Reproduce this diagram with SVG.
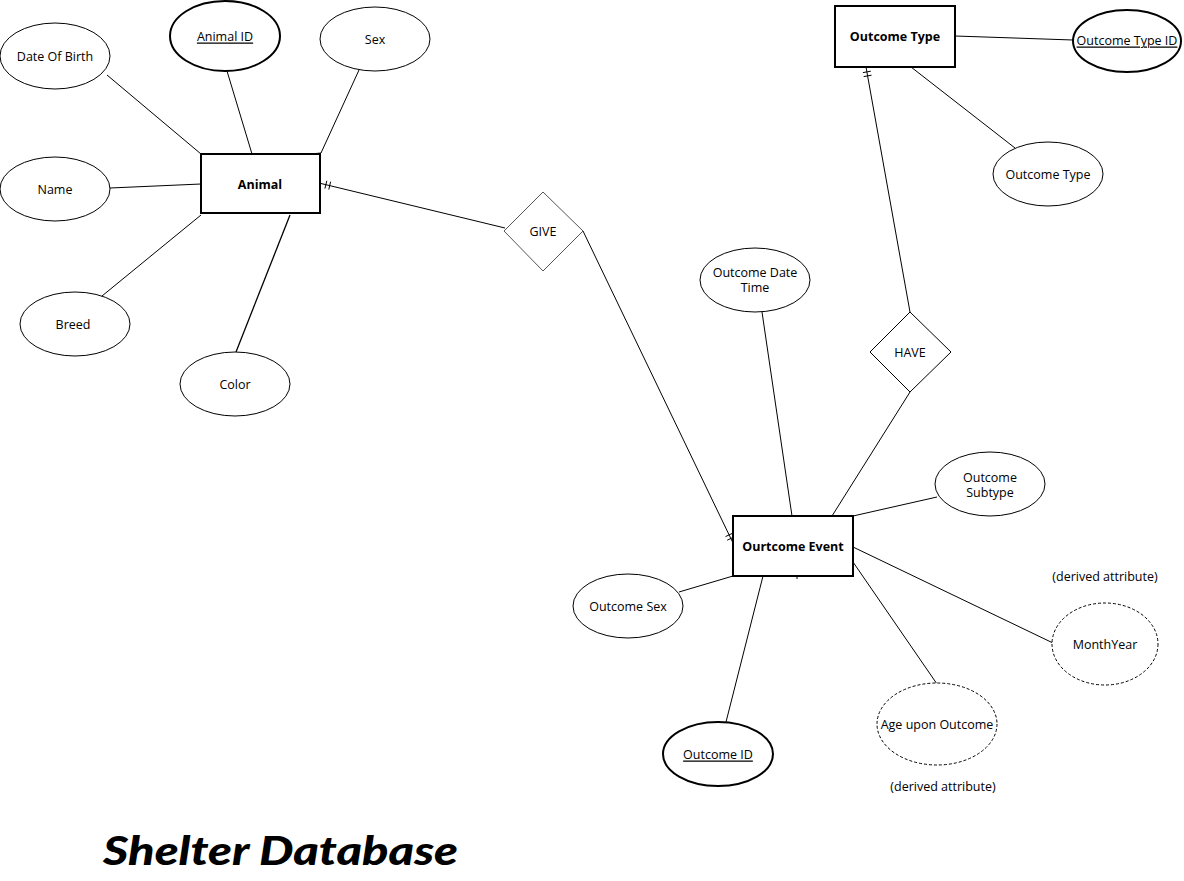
<svg xmlns="http://www.w3.org/2000/svg" width="1184" height="881" viewBox="0 0 1184 881">
<style>
text{font-family:"Open Sans","DejaVu Sans",sans-serif;font-size:12.5px;fill:#000;text-anchor:middle;dominant-baseline:central}
.ent rect{fill:#fff;stroke:#000;stroke-width:2}
.ent text{font-weight:700}
.attr ellipse{fill:#fff;stroke:#000;stroke-width:1}
.key ellipse{fill:#fff;stroke:#000;stroke-width:2}
.key text{text-decoration:underline}
.der ellipse{fill:#fff;stroke:#000;stroke-width:1;stroke-dasharray:3 2}
.rel polygon{fill:#fff;stroke:#000;stroke-width:1}
#connectors line,#connectors polyline{stroke:#000;stroke-width:1;fill:none}
.note{font-size:12.5px}
.title{font-family:"Lato","Open Sans",sans-serif;font-weight:900;font-style:italic;font-size:40px;text-anchor:start;dominant-baseline:alphabetic}
</style>
<rect width="1184" height="881" fill="#fff"/>
<g id="connectors">
<line x1="107" y1="75" x2="201" y2="154"/>
<line x1="227" y1="71" x2="252" y2="154"/>
<polyline points="359,70 321,153 300,155"/>
<line x1="110" y1="188" x2="201" y2="184"/>
<line x1="102" y1="296" x2="201" y2="215"/>
<line x1="236" y1="352" x2="290" y2="215" style="stroke-width:1.3"/>
<line x1="321" y1="183.5" x2="505" y2="228"/>
<line x1="326.8" y1="180.8" x2="324.9" y2="188.6"/>
<line x1="330.6" y1="181.7" x2="328.8" y2="189.5"/>
<line x1="583" y1="231" x2="733" y2="543"/>
<line x1="734.4" y1="536.8" x2="727.2" y2="540.2"/>
<line x1="732.7" y1="533.2" x2="725.5" y2="536.6"/>
<line x1="955" y1="36" x2="1073" y2="40"/>
<line x1="911" y1="67" x2="1015" y2="148"/>
<line x1="866" y1="67" x2="910" y2="312"/>
<line x1="862.9" y1="72.6" x2="870.8" y2="71.2"/>
<line x1="863.7" y1="76.6" x2="871.5" y2="75.2"/>
<line x1="910" y1="392" x2="832" y2="516"/>
<line x1="762" y1="312" x2="792" y2="516"/>
<line x1="937" y1="497" x2="853" y2="516"/>
<line x1="679" y1="592" x2="733" y2="576"/>
<line x1="726" y1="722" x2="763" y2="576"/>
<line x1="797" y1="576" x2="797" y2="579"/>
<line x1="853" y1="547" x2="1053" y2="643"/>
<line x1="853" y1="562" x2="937" y2="684"/>
</g>
<g id="animal" class="ent"><rect x="201" y="154" width="119" height="59"/><text x="260" y="184">Animal</text></g>
<g id="outcome-event" class="ent"><rect x="733" y="516" width="120" height="60"/><text x="793" y="546">Ourtcome Event</text></g>
<g id="outcome-type" class="ent"><rect x="835" y="6" width="120" height="61"/><text x="895" y="36">Outcome Type</text></g>
<g id="give" class="rel"><polygon points="543,192 583,231 543,271 504,231" style="stroke:#555"/><text x="543" y="231">GIVE</text></g>
<g id="have" class="rel"><polygon points="910,312 951,352 910,392 870,352"/><text x="910" y="352">HAVE</text></g>
<g id="date-of-birth" class="attr"><ellipse cx="55" cy="56" rx="55" ry="33"/><text x="55" y="56">Date Of Birth</text></g>
<g id="animal-id" class="key"><ellipse cx="225" cy="36" rx="55" ry="35"/><text x="225" y="36">Animal ID</text></g>
<g id="sex" class="attr"><ellipse cx="375" cy="39" rx="55" ry="32"/><text x="375" y="39">Sex</text></g>
<g id="name" class="attr"><ellipse cx="55" cy="189" rx="55" ry="32"/><text x="55" y="189">Name</text></g>
<g id="breed" class="attr"><ellipse cx="75" cy="324" rx="55" ry="32"/><text x="73" y="324">Breed</text></g>
<g id="color" class="attr"><ellipse cx="235" cy="384" rx="55" ry="32"/><text x="235" y="384">Color</text></g>
<g id="outcome-type-id" class="key"><ellipse cx="1127" cy="41" rx="54" ry="31"/><text x="1127" y="40">Outcome Type ID</text></g>
<g id="outcome-type-attr" class="attr"><ellipse cx="1048" cy="174" rx="55" ry="32"/><text x="1048" y="174">Outcome Type</text></g>
<g id="outcome-date-time" class="attr"><ellipse cx="755" cy="280" rx="55" ry="32"/><text x="755" y="272">Outcome Date</text><text x="755" y="287">Time</text></g>
<g id="outcome-subtype" class="attr"><ellipse cx="990" cy="484" rx="55" ry="32"/><text x="990" y="477">Outcome</text><text x="990" y="492">Subtype</text></g>
<g id="outcome-sex" class="attr"><ellipse cx="628" cy="606" rx="55" ry="32"/><text x="628" y="606">Outcome Sex</text></g>
<g id="outcome-id" class="key"><ellipse cx="718" cy="754" rx="55" ry="32"/><text x="718" y="754">Outcome ID</text></g>
<g id="month-year" class="der"><ellipse cx="1105" cy="644" rx="53" ry="41"/><text x="1105" y="644">MonthYear</text></g>
<g id="age-upon-outcome" class="der"><ellipse cx="937" cy="724" rx="60" ry="41"/><text x="937" y="724">Age upon Outcome</text></g>
<text class="note" x="1105" y="576">(derived attribute)</text>
<text class="note" x="943" y="786">(derived attribute)</text>
<text class="title" x="103" y="865" textLength="355" lengthAdjust="spacingAndGlyphs">Shelter Database</text>
</svg>
